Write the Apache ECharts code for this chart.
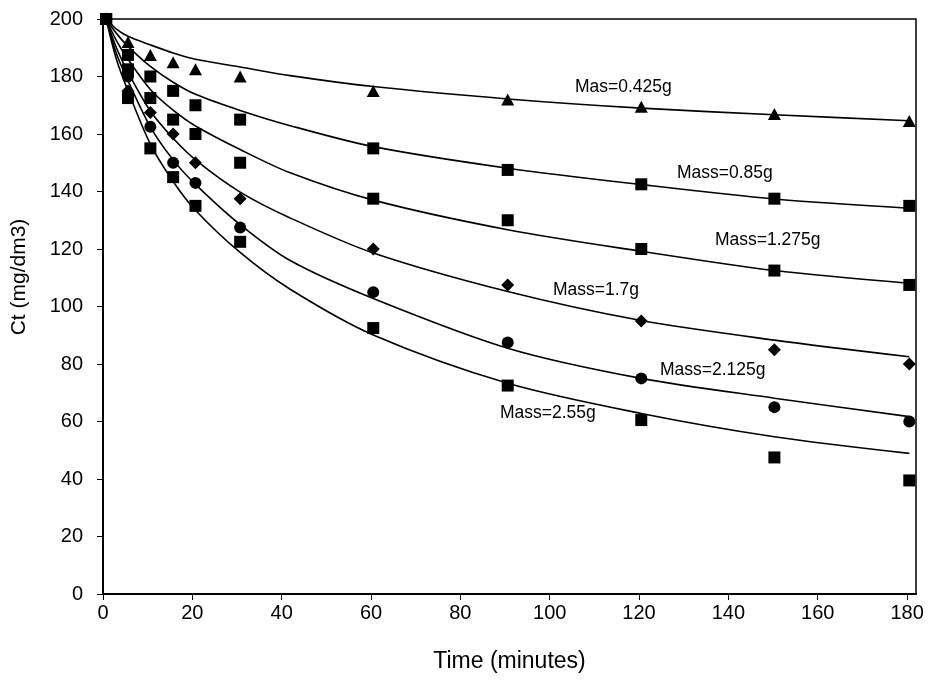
<!DOCTYPE html>
<html>
<head>
<meta charset="utf-8">
<script src="https://cdn.jsdelivr.net/npm/echarts@6/dist/echarts.min.js"></script>
<style>
  html, body { margin: 0; padding: 0; background: #fff; }
  #chart { width: 930px; height: 688px; }
</style>
</head>
<body>
<div id="chart"></div>
<script>
// Sampling times of the measured concentrations (minutes)
const sampleTimes = [0.7, 5.6, 10.6, 15.7, 20.7, 30.7, 60.5, 90.6, 120.5, 150.3, 180.5];

// Measured Ct (mg/dm3) for each adsorbent mass
const ctMass0425 = [200, 192, 187.5, 185, 182.5, 180, 175, 172, 169.5, 167, 164.5];
const ctMass085  = [200, 187.5, 180, 175, 170, 165, 155, 147.5, 142.5, 137.5, 135];
const ctMass1275 = [200, 182.5, 172.5, 165, 160, 150, 137.5, 130, 120, 112.5, 107.5];
const ctMass17   = [200, 175, 167.5, 160, 150, 137.5, 120, 107.5, 95, 85, 80];
const ctMass2125 = [200, 180, 162.5, 150, 143, 127.5, 105, 87.5, 75, 65, 60];
const ctMass255  = [200, 172.5, 155, 145, 135, 122.5, 92.5, 72.5, 60.5, 47.5, 39.5];

// Fitted model curves, read at these times
const curveTimes = [0.7, 3, 5.6, 10.6, 15.7, 20.7, 30.7, 41.9, 60.5, 90.6, 120.5, 150.3, 180.5];
const fitMass0425 = [200, 196.5, 194, 191, 188.2, 186.0, 183.3, 180.3, 176.5, 172.2, 169, 166.7, 164.6];
const fitMass085  = [200, 195, 190.5, 183.5, 178, 173.8, 168.2, 162.9, 155.6, 148.1, 142.4, 137.4, 134.2];
const fitMass1275 = [200, 192.5, 186, 175.5, 168.3, 162.8, 154.6, 146.5, 137, 126.7, 119.2, 112.5, 108.1];
const fitMass17   = [200, 190, 181.5, 168, 158.5, 151, 139.8, 130.8, 118.6, 105.2, 95.1, 88.3, 82.5];
const fitMass2125 = [200, 188, 178.5, 162.5, 151, 142.5, 128.5, 116, 102.8, 85.5, 75, 68.1, 61.7];
const fitMass255  = [200, 186, 175, 156.5, 143.5, 133.5, 118.8, 106, 90.1, 73.3, 62.8, 54.7, 48.9];

// Axis ticks
const xTicks = [0, 20, 40, 60, 80, 100, 120, 140, 160, 180];

// Curve annotations
const massLabels = ['Mas=0.425g', 'Mass=0.85g', 'Mass=1.275g', 'Mass=1.7g', 'Mass=2.125g', 'Mass=2.55g'];

const pair = (xs, ys) => xs.map((x, i) => [x, ys[i]]);
const FONT = '"Liberation Sans", Arial, sans-serif';

const measured = [
  { data: ctMass0425, symbol: 'triangle', size: [13, 12] },
  { data: ctMass085,  symbol: 'rect', size: 12 },
  { data: ctMass1275, symbol: 'rect', size: 12 },
  { data: ctMass17,   symbol: 'diamond', size: 13 },
  { data: ctMass2125, symbol: 'circle', size: 12 },
  { data: ctMass255,  symbol: 'rect', size: 12 }
];
const fits = [fitMass0425, fitMass085, fitMass1275, fitMass17, fitMass2125, fitMass255];

const series = [];
fits.forEach((f) => {
  series.push({
    type: 'line',
    data: pair(curveTimes, f),
    smooth: 0.3,
    showSymbol: false,
    symbol: 'none',
    silent: true,
    lineStyle: { color: '#000', width: 1.6 },
    z: 2
  });
});
measured.forEach((m) => {
  series.push({
    type: 'scatter',
    data: pair(sampleTimes, m.data),
    symbol: m.symbol,
    symbolSize: m.size,
    itemStyle: { color: '#000', opacity: 1 },
    z: 3
  });
});

// Annotation anchors (left edge, vertical centre) in pixels
const labelPos = [
  [575, 87], [677, 173], [715, 240], [553, 290], [660, 370], [500, 413]
];

const chart = echarts.init(document.getElementById('chart'), null, { renderer: 'canvas' });
chart.setOption({
  animation: false,
  backgroundColor: '#fff',
  grid: { left: 103, top: 19, right: 14, bottom: 94, show: true, borderColor: '#000', borderWidth: 1.5, containLabel: false },
  xAxis: {
    type: 'value', min: 0, max: 182,
    name: 'Time (minutes)', nameLocation: 'middle', nameGap: 56,
    nameTextStyle: { fontFamily: FONT, fontSize: 23, color: '#000' },
    axisLine: { show: true, onZero: false, lineStyle: { color: '#000', width: 2 } },
    axisTick: { show: true, length: 6, lineStyle: { color: '#000', width: 1 }, customValues: xTicks },
    axisLabel: { fontFamily: FONT, fontSize: 20, color: '#000', margin: 9, customValues: xTicks },
    splitLine: { show: false }
  },
  yAxis: {
    type: 'value', min: 0, max: 200, interval: 20,
    axisLine: { show: true, lineStyle: { color: '#000', width: 2 } },
    axisTick: { show: true, length: 6, lineStyle: { color: '#000', width: 1 } },
    axisLabel: { fontFamily: FONT, fontSize: 20, color: '#000', margin: 20 },
    splitLine: { show: false }
  },
  series: series,
  graphic: [
    {
      type: 'text',
      x: 19, y: 277,
      rotation: Math.PI / 2,
      style: { text: 'Ct (mg/dm3)', font: '21px ' + FONT, fill: '#000', textAlign: 'center', textVerticalAlign: 'middle' },
      z: 10
    }
  ].concat(massLabels.map((t, i) => ({
    type: 'text',
    x: labelPos[i][0],
    y: labelPos[i][1],
    style: { text: t, font: '17.5px ' + FONT, fill: '#000', textVerticalAlign: 'middle' },
    z: 10
  })))
});
</script>
</body>
</html>
